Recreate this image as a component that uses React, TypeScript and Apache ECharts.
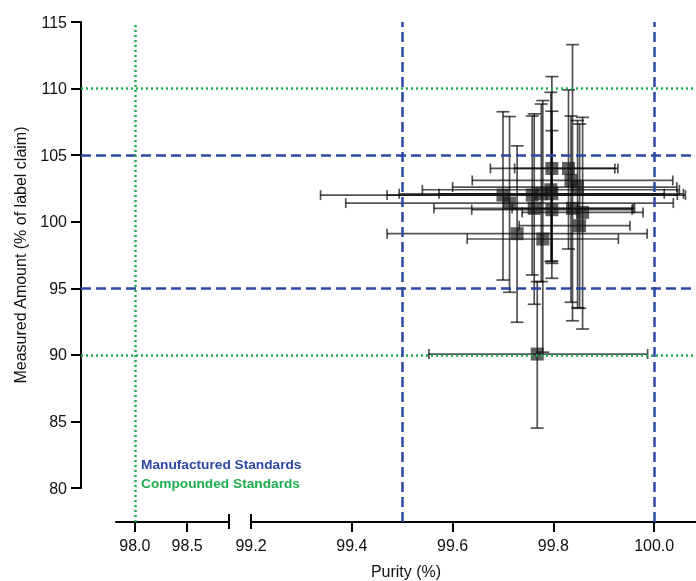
import React, { useEffect, useRef } from "react";
import * as echarts from "echarts";

// ---- data ----
const purity = [99.797, 99.83, 99.835, 99.848, 99.7, 99.713, 99.758, 99.776, 99.795, 99.797, 99.762, 99.797, 99.838, 99.858, 99.852, 99.728, 99.779, 99.768];
const amount = [104.0, 104.0, 103.1, 102.6, 102.0, 101.4, 102.0, 102.1, 102.4, 102.1, 101.0, 100.9, 101.0, 100.7, 99.7, 99.1, 98.7, 90.06];
const purityLow = [99.675, 99.723, 99.639, 99.6, 99.338, 99.388, 99.47, 99.494, 99.54, 99.573, 99.563, 99.638, 99.718, 99.738, 99.732, 99.47, 99.629, 99.553];
const purityHigh = [99.922, 99.928, 100.037, 100.045, 100.062, 100.038, 100.046, 100.058, 100.05, 100.02, 99.961, 99.956, 99.958, 99.978, 99.952, 99.986, 99.929, 99.987];
const amountLow = [97.05, 97.95, 93.95, 93.54, 95.62, 94.7, 96.0, 95.5, 97.0, 96.87, 93.8, 95.75, 92.56, 91.94, 93.5, 92.45, 90.2, 84.5];
const amountHigh = [110.9, 109.9, 107.94, 107.6, 108.26, 107.9, 107.94, 108.84, 109.72, 108.3, 108.1, 106.84, 113.3, 107.84, 107.34, 105.7, 109.1, 95.5];

const leftTicks = [98.0, 98.5];
const rightLabels = [99.2, 99.4, 99.6, 99.8, 100.0];
const rightTicks = [99.4, 99.6, 99.8, 100.0];
const manufacturedX = [99.5, 100.0];
const manufacturedY = [105, 95];
const compoundedX = [98.0];
const compoundedY = [110, 90];
const legendTexts = ["Manufactured Standards", "Compounded Standards"];

// ---- layout ----
const W = 696;
const H = 581;
const TOP = 22;
const Y_AXIS_BOTTOM = 488;
const X_AXIS_Y = 522;
const Y_MIN = 80;
const Y_MAX = 115;
const Y_HIDDEN_MIN = Y_MIN - ((X_AXIS_Y - Y_AXIS_BOTTOM) * (Y_MAX - Y_MIN)) / (Y_AXIS_BOTTOM - TOP);
const LEFT_SEG = { left: 116, right: 229, min: 97.82, max: 98.9 };
const RIGHT_SEG = { left: 251, right: W, min: 99.2, max: 100.083 };
const Y_AXIS_X = 81;

const BLUE = "#2c48a3";
const GREEN = "#1fae4f";
const FONT = "Liberation Sans, Arial, sans-serif";

export default function App() {
  const ref = useRef<HTMLDivElement>(null);

  useEffect(() => {
    document.body.style.margin = "0";
    const chart = echarts.init(ref.current!, null, { renderer: "svg" });

    const errData = purity.map((p, i) => [p, amount[i], purityLow[i], purityHigh[i], amountLow[i], amountHigh[i]]);
    const pts = purity.map((p, i) => [p, amount[i]]);

    const axisLine = { show: true, onZero: false, lineStyle: { color: "#000", width: 2 } };
    const tickLabel = { color: "#111", fontSize: 16, fontFamily: FONT };

    const dashed = (color: string) => ({ type: [10, 5] as any, color, width: 2.5 });
    const dotted = (color: string) => ({ type: [2, 3] as any, color, width: 2.5 });

    const option: any = {
      animation: false,
      grid: [
        { left: LEFT_SEG.left, width: LEFT_SEG.right - LEFT_SEG.left, top: TOP, height: X_AXIS_Y - TOP },
        { left: RIGHT_SEG.left, width: RIGHT_SEG.right - RIGHT_SEG.left, top: TOP, height: X_AXIS_Y - TOP },
        { left: Y_AXIS_X, width: W - Y_AXIS_X, top: TOP, height: Y_AXIS_BOTTOM - TOP },
      ],
      xAxis: [
        {
          type: "value", gridIndex: 0, min: LEFT_SEG.min, max: LEFT_SEG.max,
          axisLine, splitLine: { show: false },
          axisTick: { show: true, length: 10, lineStyle: { width: 2, color: "#000" }, customValues: leftTicks },
          axisLabel: { ...tickLabel, margin: 15, customValues: leftTicks, formatter: (v: number) => v.toFixed(1) },
        },
        {
          type: "value", gridIndex: 1, min: RIGHT_SEG.min, max: RIGHT_SEG.max,
          axisLine, splitLine: { show: false },
          axisTick: { show: true, length: 10, lineStyle: { width: 2, color: "#000" }, customValues: rightTicks },
          axisLabel: { ...tickLabel, margin: 15, customValues: rightLabels, formatter: (v: number) => v.toFixed(1) },
        },
        { type: "value", gridIndex: 2, min: 0, max: 1, show: false },
      ],
      yAxis: [
        { type: "value", gridIndex: 0, min: Y_HIDDEN_MIN, max: Y_MAX, show: false },
        { type: "value", gridIndex: 1, min: Y_HIDDEN_MIN, max: Y_MAX, show: false },
        {
          type: "value", gridIndex: 2, min: Y_MIN, max: Y_MAX, interval: 5,
          axisLine: { show: true, lineStyle: { color: "#000", width: 2 } },
          axisTick: { show: true, length: 10, lineStyle: { width: 2, color: "#000" } },
          axisLabel: { ...tickLabel, margin: 14 },
          splitLine: { show: false },
          name: "Measured Amount (% of label claim)",
          nameLocation: "middle",
          nameRotate: 90,
          nameGap: 53,
          nameTextStyle: { color: "#111", fontSize: 16, fontFamily: FONT },
        },
      ],
      series: [
        {
          type: "scatter", xAxisIndex: 2, yAxisIndex: 2, data: [], z: 1, silent: true,
          markLine: {
            symbol: "none", silent: true, label: { show: false },
            data: [
              ...compoundedY.map((v) => ({ yAxis: v, lineStyle: dotted(GREEN) })),
              ...manufacturedY.map((v) => ({ yAxis: v, lineStyle: dashed(BLUE) })),
            ],
          },
        },
        {
          type: "scatter", xAxisIndex: 0, yAxisIndex: 0, data: [], z: 1, silent: true,
          markLine: {
            symbol: "none", silent: true, label: { show: false },
            data: compoundedX.map((v) => ({ xAxis: v, lineStyle: dotted(GREEN) })),
          },
        },
        {
          type: "scatter", xAxisIndex: 1, yAxisIndex: 1, data: [], z: 1, silent: true,
          markLine: {
            symbol: "none", silent: true, label: { show: false },
            data: manufacturedX.map((v) => ({ xAxis: v, lineStyle: dashed(BLUE) })),
          },
        },
        {
          type: "custom", xAxisIndex: 1, yAxisIndex: 1, z: 3, silent: true,
          data: errData,
          renderItem: (params: any, api: any) => {
            const x = api.value(0), y = api.value(1);
            const pl = api.coord([api.value(2), y]);
            const ph = api.coord([api.value(3), y]);
            const pb = api.coord([x, api.value(4)]);
            const pt = api.coord([x, api.value(5)]);
            const style = { stroke: "rgba(0,0,0,0.68)", lineWidth: 1.7, fill: "none" };
            const cw = 6.5, ch = 5;
            const line = (x1: number, y1: number, x2: number, y2: number) => ({ type: "line", shape: { x1, y1, x2, y2 }, style });
            return {
              type: "group",
              children: [
                line(pl[0], pl[1], ph[0], ph[1]),
                line(pl[0], pl[1] - ch, pl[0], pl[1] + ch),
                line(ph[0], ph[1] - ch, ph[0], ph[1] + ch),
                line(pb[0], pb[1], pt[0], pt[1]),
                line(pb[0] - cw, pb[1], pb[0] + cw, pb[1]),
                line(pt[0] - cw, pt[1], pt[0] + cw, pt[1]),
              ],
            };
          },
        },
        {
          type: "scatter", xAxisIndex: 1, yAxisIndex: 1, z: 4, silent: true,
          symbol: "rect", symbolSize: 13,
          itemStyle: { color: "rgba(20,20,20,0.84)" },
          data: pts,
        },
      ],
    };
    chart.setOption(option);

    const bx1 = chart.convertToPixel({ xAxisIndex: 0 } as any, LEFT_SEG.max) as unknown as number;
    const bx2 = chart.convertToPixel({ xAxisIndex: 1 } as any, RIGHT_SEG.min) as unknown as number;
    const by = chart.convertToPixel({ yAxisIndex: 0 } as any, Y_HIDDEN_MIN) as unknown as number;
    const xCenter = (LEFT_SEG.left + RIGHT_SEG.right) / 2;

    chart.setOption({
      graphic: [
        { type: "line", shape: { x1: bx1, y1: by - 8, x2: bx1, y2: by + 7 }, style: { stroke: "#000", lineWidth: 2 }, z: 10 },
        { type: "line", shape: { x1: bx2, y1: by - 8, x2: bx2, y2: by + 7 }, style: { stroke: "#000", lineWidth: 2 }, z: 10 },
        {
          type: "text", x: xCenter, y: 571,
          style: { text: "Purity (%)", fill: "#111", fontSize: 16, fontFamily: FONT, align: "center", verticalAlign: "middle" },
        },
        {
          type: "text", x: 141, y: 464,
          style: { text: legendTexts[0], fill: BLUE, fontSize: 13.7, fontWeight: "bold", fontFamily: FONT, align: "left", verticalAlign: "middle" },
        },
        {
          type: "text", x: 141, y: 483,
          style: { text: legendTexts[1], fill: GREEN, fontSize: 13.7, fontWeight: "bold", fontFamily: FONT, align: "left", verticalAlign: "middle" },
        },
      ],
    });

    return () => chart.dispose();
  }, []);

  return <div ref={ref} style={{ width: W, height: H, position: "fixed", left: 0, top: 0 }} />;
}
